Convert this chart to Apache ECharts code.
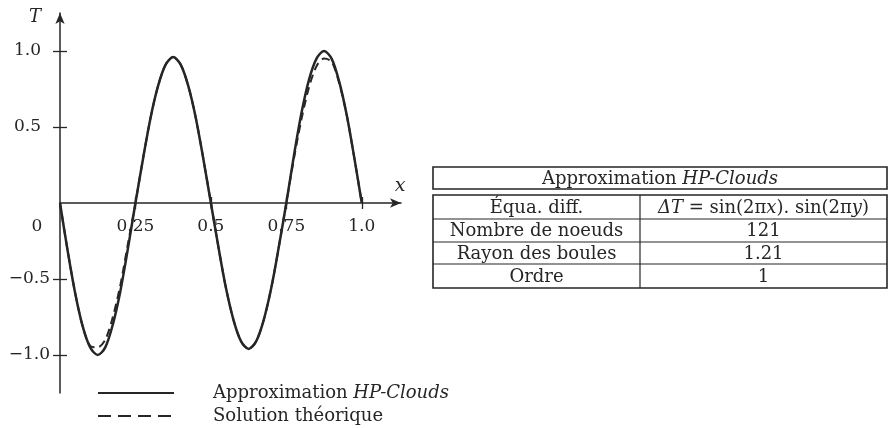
<!DOCTYPE html>
<html>
<head>
<meta charset="utf-8">
<script src="https://cdn.jsdelivr.net/npm/echarts@6/dist/echarts.min.js"></script>
<style>
  html, body { margin: 0; padding: 0; background: #fff; }
  #chart { width: 892px; height: 428px; }
</style>
</head>
<body>
<div id="chart"></div>
<script>
// abscisses des points
const xs = [0, 0.025, 0.05, 0.075, 0.1, 0.125, 0.15, 0.175, 0.2, 0.225,
  0.25, 0.275, 0.3, 0.325, 0.35, 0.375, 0.4, 0.425, 0.45, 0.475,
  0.5, 0.525, 0.55, 0.575, 0.6, 0.625, 0.65, 0.675, 0.7, 0.725,
  0.75, 0.775, 0.8, 0.825, 0.85, 0.875, 0.9, 0.925, 0.95, 0.975, 1.0];
// Approximation HP-Clouds (trait plein)
const approxT = [0, -0.31, -0.59, -0.81, -0.95, -1.0, -0.95, -0.8, -0.58, -0.3,
  0, 0.29, 0.56, 0.77, 0.91, 0.96, 0.91, 0.77, 0.56, 0.29,
  0, -0.29, -0.56, -0.77, -0.91, -0.96, -0.91, -0.77, -0.56, -0.29,
  0, 0.31, 0.59, 0.81, 0.95, 1.0, 0.95, 0.8, 0.58, 0.3, 0];
// Solution theorique (pointilles)
const theoT = [0, -0.31, -0.59, -0.81, -0.94, -0.95, -0.9, -0.75, -0.54, -0.27,
  0, 0.29, 0.56, 0.77, 0.91, 0.96, 0.91, 0.77, 0.56, 0.29,
  0, -0.29, -0.56, -0.77, -0.91, -0.96, -0.91, -0.77, -0.56, -0.29,
  0, 0.29, 0.55, 0.76, 0.9, 0.95, 0.93, 0.79, 0.58, 0.3, 0];
const xTicks = [0.25, 0.5, 0.75, 1.0];
const yTicks = [-1.0, -0.5, 0.5, 1.0];
// tableau des parametres
const tableRows = [
  ['Équa. diff.', 'eq'],
  ['Nombre de noeuds', '121'],
  ['Rayon des boules', '1.21'],
  ['Ordre', '1']
];

const ink = '#262626';
const serif = 'DejaVu Serif';
const fs = 17;   // graduations
const fsT = 18;  // tableau et legende

const chart = echarts.init(document.getElementById('chart'));

// grille : y = 0 a 190 px du bas
const gridTop = 13, gridH = 380;
const zeroOffset = -190;

const axisTextRich = {
  p: { fontFamily: serif, fontSize: fs, color: ink, padding: [0, 9, 0, 0] },
  n: { fontFamily: serif, fontSize: fs, color: ink }
};

// cellules du tableau
const tx = 433, tr = 887, tcol = 640;
const rowsY = [195, 219, 242, 264, 288];
const tableEls = [];
tableEls.push({
  type: 'rect', shape: { x: tx, y: 167, width: tr - tx, height: 22 },
  style: { fill: 'none', stroke: ink, lineWidth: 1.6 }
});
tableEls.push({
  type: 'text', x: (tx + tr) / 2, y: 179,
  style: {
    text: '{r|Approximation }{i|HP-Clouds}', align: 'center', verticalAlign: 'middle',
    rich: {
      r: { fontFamily: serif, fontSize: fsT, fill: ink },
      i: { fontFamily: serif, fontSize: fsT, fontStyle: 'italic', fill: ink }
    }
  }
});
tableEls.push({
  type: 'rect', shape: { x: tx, y: rowsY[0], width: tr - tx, height: rowsY[4] - rowsY[0] },
  style: { fill: 'none', stroke: ink, lineWidth: 1.6 }
});
tableEls.push({
  type: 'line', shape: { x1: tcol, y1: rowsY[0], x2: tcol, y2: rowsY[4] },
  style: { stroke: ink, lineWidth: 1.2 }
});
for (let i = 1; i < 4; i++) {
  tableEls.push({
    type: 'line', shape: { x1: tx, y1: rowsY[i], x2: tr, y2: rowsY[i] },
    style: { stroke: ink, lineWidth: 1.2 }
  });
}
tableRows.forEach(function (row, i) {
  const cy = (rowsY[i] + rowsY[i + 1]) / 2 + 1;
  tableEls.push({
    type: 'text', x: (tx + tcol) / 2, y: cy,
    style: { text: row[0], align: 'center', verticalAlign: 'middle', fontFamily: serif, fontSize: fsT, fill: ink }
  });
  if (row[1] === 'eq') {
    tableEls.push({
      type: 'text', x: (tcol + tr) / 2, y: cy,
      style: {
        text: '{i|ΔT}{r| = sin(2π}{i|x}{r|). sin(2π}{i|y}{r|)}',
        align: 'center', verticalAlign: 'middle',
        rich: {
          r: { fontFamily: serif, fontSize: fsT, fill: ink },
          i: { fontFamily: serif, fontSize: fsT, fontStyle: 'italic', fill: ink }
        }
      }
    });
  } else {
    tableEls.push({
      type: 'text', x: (tcol + tr) / 2, y: cy,
      style: { text: row[1], align: 'center', verticalAlign: 'middle', fontFamily: serif, fontSize: fsT, fill: ink }
    });
  }
});

const option = {
  backgroundColor: '#fff',
  animation: false,
  grid: { left: 60, top: gridTop, width: 341, height: gridH, containLabel: false },
  legend: {
    orient: 'vertical',
    left: 97,
    top: 384,
    padding: 0,
    itemWidth: 76,
    itemHeight: 14,
    itemGap: 5,
    itemStyle: { color: 'rgba(0,0,0,0)', borderWidth: 0 },
    data: [
      { name: 'Approximation HP-Clouds', lineStyle: { type: 'solid', width: 2 } },
      { name: 'Solution théorique', lineStyle: { type: [13, 7], width: 2 } }
    ],
    formatter: function (name) {
      if (name === 'Approximation HP-Clouds') return '{r|Approximation }{i|HP-Clouds}';
      return '{r|' + name + '}';
    },
    textStyle: {
      padding: [0, 0, 0, 34],
      rich: {
        r: { fontFamily: serif, fontSize: fsT, color: ink, lineHeight: 16 },
        i: { fontFamily: serif, fontSize: fsT, fontStyle: 'italic', color: ink, lineHeight: 16 }
      }
    }
  },
  xAxis: [{
    type: 'value', min: 0, max: 1.13, position: 'bottom', offset: zeroOffset,
    axisLine: { onZero: false, symbol: ['none', 'arrow'], symbolSize: [7, 11], lineStyle: { color: ink, width: 1.5 } },
    axisTick: { show: true, length: 6, customValues: xTicks, lineStyle: { color: ink, width: 1.3 } },
    axisLabel: {
      customValues: xTicks, margin: 15, color: ink, fontFamily: serif, fontSize: fs,
      formatter: function (v) { return v === 1 ? '1.0' : String(v); }
    },
    splitLine: { show: false }
  }, {
    type: 'value', min: 0, max: 1.13, position: 'bottom', offset: zeroOffset,
    axisLine: { show: false, onZero: false },
    axisTick: { show: true, inside: true, length: 6, customValues: xTicks, lineStyle: { color: ink, width: 1.3 } },
    axisLabel: { show: false },
    splitLine: { show: false }
  }],
  yAxis: [{
    type: 'value', min: -1.25, max: 1.25, position: 'left',
    axisLine: { show: true, onZero: false, symbol: ['none', 'arrow'], symbolSize: [7, 11], lineStyle: { color: ink, width: 1.5 } },
    axisTick: { show: true, length: 7, customValues: yTicks, lineStyle: { color: ink, width: 1.3 } },
    axisLabel: {
      customValues: yTicks, margin: 10,
      formatter: function (v) {
        const s = v.toFixed(1).replace('-', '−');
        return v < 0 ? '{n|' + s + '}' : '{p|' + s + '}';
      },
      rich: axisTextRich
    },
    splitLine: { show: false }
  }, {
    type: 'value', min: -1.25, max: 1.25, position: 'left',
    axisLine: { show: false, onZero: false },
    axisTick: { show: true, inside: true, length: 7, customValues: yTicks, lineStyle: { color: ink, width: 1.3 } },
    axisLabel: { show: false },
    splitLine: { show: false }
  }],
  series: [{
    name: 'Solution théorique',
    type: 'line',
    smooth: 0.3,
    symbol: 'none',
    z: 2,
    color: ink,
    lineStyle: { color: ink, width: 2, type: [8, 5] },
    data: xs.map(function (x, i) { return [x, theoT[i]]; })
  }, {
    name: 'Approximation HP-Clouds',
    type: 'line',
    smooth: 0.3,
    symbol: 'none',
    z: 3,
    color: ink,
    lineStyle: { color: ink, width: 2.5 },
    data: xs.map(function (x, i) { return [x, approxT[i]]; })
  }],
  graphic: [
    { type: 'text', x: 35, y: 17, style: { text: 'T', align: 'center', verticalAlign: 'middle', fontFamily: serif, fontSize: 18, fontStyle: 'italic', fill: ink } },
    { type: 'text', x: 400, y: 186, style: { text: 'x', align: 'center', verticalAlign: 'middle', fontFamily: serif, fontSize: 19, fontStyle: 'italic', fill: ink } },
    { type: 'text', x: 37, y: 227, style: { text: '0', align: 'center', verticalAlign: 'middle', fontFamily: serif, fontSize: fs, fill: ink } }
  ].concat(tableEls)
};

chart.setOption(option);
</script>
</body>
</html>
